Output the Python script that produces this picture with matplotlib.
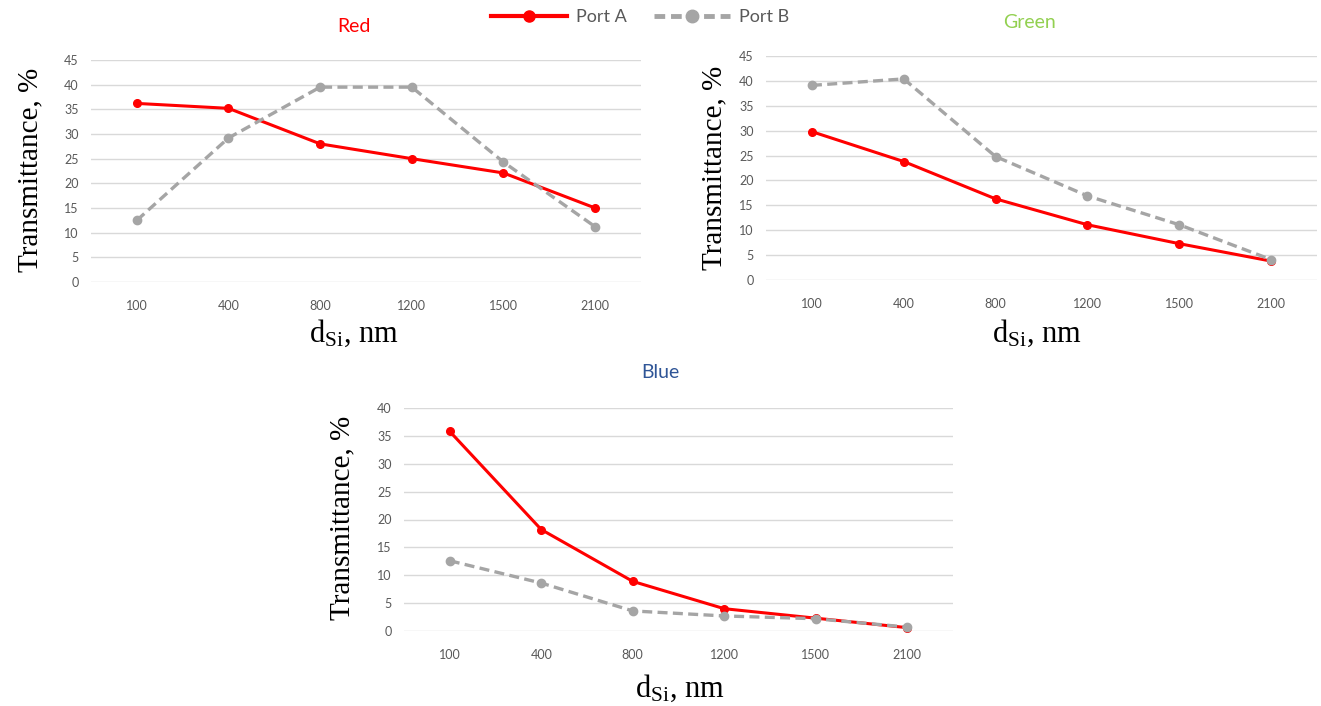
import matplotlib
matplotlib.use("Agg")
import matplotlib.pyplot as plt
from matplotlib.lines import Line2D

thickness = ["100", "400", "800", "1200", "1500", "2100"]

red_a = [36.2, 35.2, 28.0, 25.0, 22.1, 15.0]
red_b = [12.5, 29.2, 39.5, 39.5, 24.3, 11.2]
green_a = [29.8, 23.8, 16.3, 11.1, 7.3, 3.8]
green_b = [39.1, 40.4, 24.8, 16.9, 11.1, 4.1]
blue_a = [35.8, 18.2, 8.9, 4.0, 2.3, 0.6]
blue_b = [12.6, 8.6, 3.6, 2.7, 2.2, 0.7]

W, H = 1321, 706
col_a = "#FF0000"
col_b = "#A5A5A5"
tick_col = "#595959"

plt.rcParams["mathtext.fontset"] = "custom"
plt.rcParams["mathtext.rm"] = "Liberation Serif"
plt.rcParams["mathtext.it"] = "Liberation Serif:italic"

fig = plt.figure(figsize=(W / 100, H / 100), dpi=100)


def px(x0, y_top, x1, y_bot):
    return [x0 / W, 1 - y_bot / H, (x1 - x0) / W, (y_bot - y_top) / H]


def panel(rect, a, b, ymax, title, tcol, tpos, ylab_pos, xlab_pos):
    ax = fig.add_axes(px(*rect))
    x = range(len(thickness))
    ax.plot(x, a, color=col_a, lw=2.2, marker="o", ms=5.5, clip_on=False, zorder=3)
    ax.plot(x, b, color=col_b, lw=2.4, ls=(0, (3, 1.6)), marker="o", ms=6,
            clip_on=False, zorder=4)
    ax.set_xlim(-0.5, len(thickness) - 0.5)
    ax.set_ylim(0, ymax)
    ax.set_yticks(range(0, ymax + 1, 5))
    ax.set_xticks(list(x))
    ax.set_xticklabels(thickness)
    ax.grid(axis="y", color="#D9D9D9", lw=1)
    ax.set_axisbelow(True)
    for s in ax.spines.values():
        s.set_visible(False)
    ax.tick_params(length=0, labelsize=9, labelcolor=tick_col, pad=9)
    ax.tick_params(axis="x", pad=13)
    for lab in ax.get_xticklabels() + ax.get_yticklabels():
        lab.set_fontfamily("Lato")
    fig.text(tpos[0] / W, 1 - tpos[1] / H, title, color=tcol, fontsize=14,
             family="Lato", ha="center", va="center")
    fig.text(ylab_pos[0] / W, 1 - ylab_pos[1] / H, "Transmittance, %",
             rotation=90, fontsize=21, family="Liberation Serif",
             ha="center", va="center")
    fig.text(xlab_pos[0] / W, 1 - xlab_pos[1] / H, r"d$_{\mathrm{Si}}$, nm",
             fontsize=22, family="Liberation Serif", ha="center", va="center")
    return ax


panel((91, 60, 641, 282), red_a, red_b, 45, "Red", "#FF0000", (354, 26),
      (30, 170), (354, 333))
panel((766, 56, 1317, 280), green_a, green_b, 45, "Green", "#92D050", (1030, 22),
      (714, 168), (1037, 333))
panel((404, 408, 953, 631), blue_a, blue_b, 40, "Blue", "#2F5597", (660, 372),
      (342, 518), (680, 688))

handles = [
    Line2D([], [], color=col_a, lw=3, marker="o", ms=8),
    Line2D([], [], color=col_b, lw=3.5, ls=(0, (2.2, 1.2)), marker="o", ms=9),
]
leg = fig.legend(handles, ["Port A", "Port B"], loc="center", ncol=2,
                 bbox_to_anchor=(640 / W, 1 - 17 / H), frameon=False,
                 handlelength=4.2, columnspacing=1.5, handletextpad=0.5,
                 prop={"family": "Lato", "size": 13})
for t in leg.get_texts():
    t.set_color(tick_col)

fig.savefig("out.png", dpi=100)
